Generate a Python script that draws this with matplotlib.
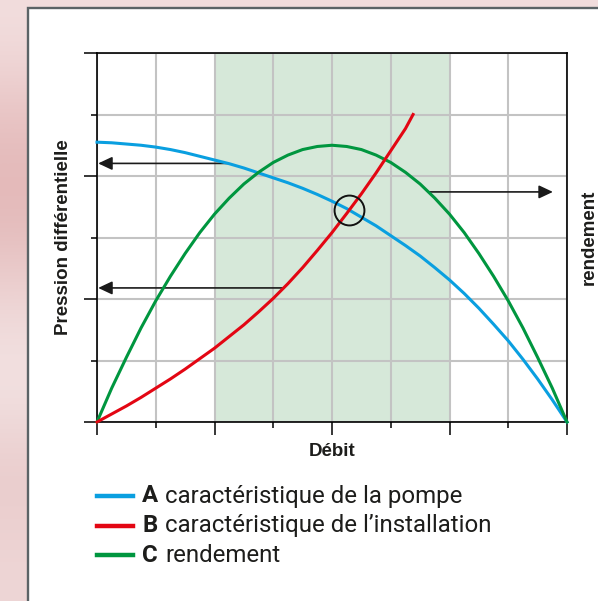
import numpy as np
import matplotlib.pyplot as plt
from matplotlib.patches import Rectangle
from matplotlib.lines import Line2D

debit = [0, 0.25, 0.5, 0.75, 1, 1.25, 1.5, 1.75, 2, 2.25, 2.5, 2.75, 3,
         3.25, 3.5, 3.75, 4, 4.25, 4.5, 4.75, 5, 5.25, 5.5, 5.75, 6,
         6.25, 6.5, 6.75, 7, 7.25, 7.5, 7.75, 8]
pompe = [4.55, 4.54, 4.52, 4.50, 4.47, 4.43, 4.38, 4.32, 4.26, 4.20, 4.13,
         4.05, 3.97, 3.89, 3.80, 3.70, 3.59, 3.47, 3.33, 3.19, 3.03, 2.87,
         2.70, 2.51, 2.31, 2.09, 1.85, 1.59, 1.32, 1.02, 0.70, 0.36, 0]
rendement = [0, 0.55, 1.05, 1.53, 1.97, 2.37, 2.74, 3.08, 3.38, 3.64, 3.87,
             4.06, 4.22, 4.34, 4.43, 4.48, 4.50, 4.48, 4.43, 4.34, 4.22,
             4.06, 3.87, 3.64, 3.38, 3.08, 2.74, 2.37, 1.97, 1.53, 1.05,
             0.55, 0]
debit_inst = [0, 0.25, 0.5, 0.75, 1, 1.25, 1.5, 1.75, 2, 2.25, 2.5, 2.75,
              3, 3.25, 3.5, 3.75, 4, 4.25, 4.5, 4.75, 5, 5.25, 5.38]
installation = [0, 0.13, 0.26, 0.40, 0.55, 0.70, 0.86, 1.03, 1.20, 1.39,
                1.58, 1.79, 2.01, 2.25, 2.51, 2.79, 3.08, 3.39, 3.71, 4.05,
                4.41, 4.77, 5.0]

zone_rendement = (2, 6)

# points de départ des flèches sur chaque courbe
x_fleche_pompe = 2.23
y_fleche_inst = 2.18
x_fleche_rend = 5.64
x_fin_rend = 7.76

legende = [("A", "caractéristique de la pompe"),
           ("B", "caractéristique de l’installation"),
           ("C", "rendement")]

bleu = "#0a9fe0"
rouge = "#e30613"
vert = "#00963f"

W, H = 598, 601
fig = plt.figure(figsize=(W / 100, H / 100), dpi=100)
fig.patch.set_facecolor("#f1dcdc")

# fond flou rosé sur le bord gauche
bg = fig.add_axes([0, 0, 1, 1], zorder=-2)
teintes = np.array([[242, 222, 222], [230, 190, 190], [226, 182, 182],
                    [238, 214, 214], [244, 230, 230], [232, 200, 200],
                    [238, 214, 214]]) / 255
bg.imshow(teintes[:, None, :], aspect="auto", interpolation="bicubic",
          extent=[0, 1, 0, 1])
bg.set_axis_off()

# panneau blanc encadré
fig.patches.append(Rectangle((28 / W, -0.02), 1, (H - 8) / H + 0.02,
                             transform=fig.transFigure, facecolor="white",
                             edgecolor="#5b6366", lw=1.7, zorder=-1))

ax = fig.add_axes([97 / W, (H - 422) / H, 470 / W, 369 / H])
ax.set_xlim(0, 8)
ax.set_ylim(0, 6)
ax.axvspan(*zone_rendement, color="#d6e8d9", lw=0, zorder=0)
ax.set_axisbelow(True)

ax.set_xticks(range(0, 9, 2))
ax.set_xticks(range(1, 8, 2), minor=True)
ax.set_yticks(range(0, 7, 2))
ax.set_yticks(range(1, 6, 2), minor=True)
ax.grid(which="both", color="#c3c3c3", lw=1.5)
ax.tick_params(which="major", length=9.5, width=1.1, direction="out",
               labelbottom=False, labelleft=False)
ax.tick_params(which="minor", length=4.5, width=1.1, direction="out")
for s in ax.spines.values():
    s.set_linewidth(1.2)
    s.set_color("black")

ax.plot(debit, pompe, color=bleu, lw=2.2, zorder=3, clip_on=False,
        solid_joinstyle="round")
ax.plot(debit_inst, installation, color=rouge, lw=2.2, zorder=4,
        clip_on=False, solid_joinstyle="round")
ax.plot(debit, rendement, color=vert, lw=2.2, zorder=3, clip_on=False,
        solid_joinstyle="round")

# point de fonctionnement : intersection pompe / installation
xs = np.linspace(0, debit_inst[-1], 2000)
ecart = np.interp(xs, debit, pompe) - np.interp(xs, debit_inst, installation)
i = np.where(np.diff(np.sign(ecart)))[0][0]
x_pf = xs[i]
y_pf = np.interp(x_pf, debit, pompe)
ax.plot(x_pf, y_pf, "o", ms=21.5, mfc="none", mec="#111111", mew=1.4, zorder=5)

fleche = dict(arrowstyle="-|>,head_length=8.5,head_width=4", mutation_scale=1,
              color="#1a1a1a", lw=1.2, shrinkA=0, shrinkB=0)
y1 = np.interp(x_fleche_pompe, debit, pompe)
ax.annotate("", xy=(0.02, y1), xytext=(x_fleche_pompe, y1), arrowprops=fleche,
            annotation_clip=False, zorder=2)
x2 = np.interp(y_fleche_inst, installation, debit_inst)
ax.annotate("", xy=(0.02, y_fleche_inst), xytext=(x2, y_fleche_inst),
            arrowprops=fleche, annotation_clip=False, zorder=2)
y3 = np.interp(x_fleche_rend, debit, rendement)
ax.annotate("", xy=(x_fin_rend, y3), xytext=(x_fleche_rend, y3),
            arrowprops=fleche, annotation_clip=False, zorder=2)

lab = dict(family="Liberation Sans", weight="bold", size=13.5, color="#1d1d1b")
fig.text(332 / W, 1 - 452 / H, "Débit", ha="center", va="center", **lab)
fig.text(63 / W, 1 - 237 / H, "Pression différentielle", rotation=90,
         ha="center", va="center", **lab)
fig.text(597.5 / W, 1 - 237 / H, "rendement", rotation=90,
         ha="right", va="center", **lab)

# légende dessinée à la main
for k, ((lettre, texte), couleur) in enumerate(zip(legende, [bleu, rouge, vert])):
    y = 1 - (496 + 29.5 * k) / H
    fig.add_artist(Line2D([97 / W, 133 / W], [y, y], color=couleur, lw=3.2,
                          transform=fig.transFigure))
    fig.text(142 / W, y, lettre, family="Roboto", weight="bold", size=17.3,
             color="#1d1d1b", va="center")
    fig.text(165 / W, y, texte, family="Roboto", size=17.3,
             color="#1d1d1b", va="center")

fig.savefig("out.png", dpi=100, facecolor=fig.get_facecolor())
